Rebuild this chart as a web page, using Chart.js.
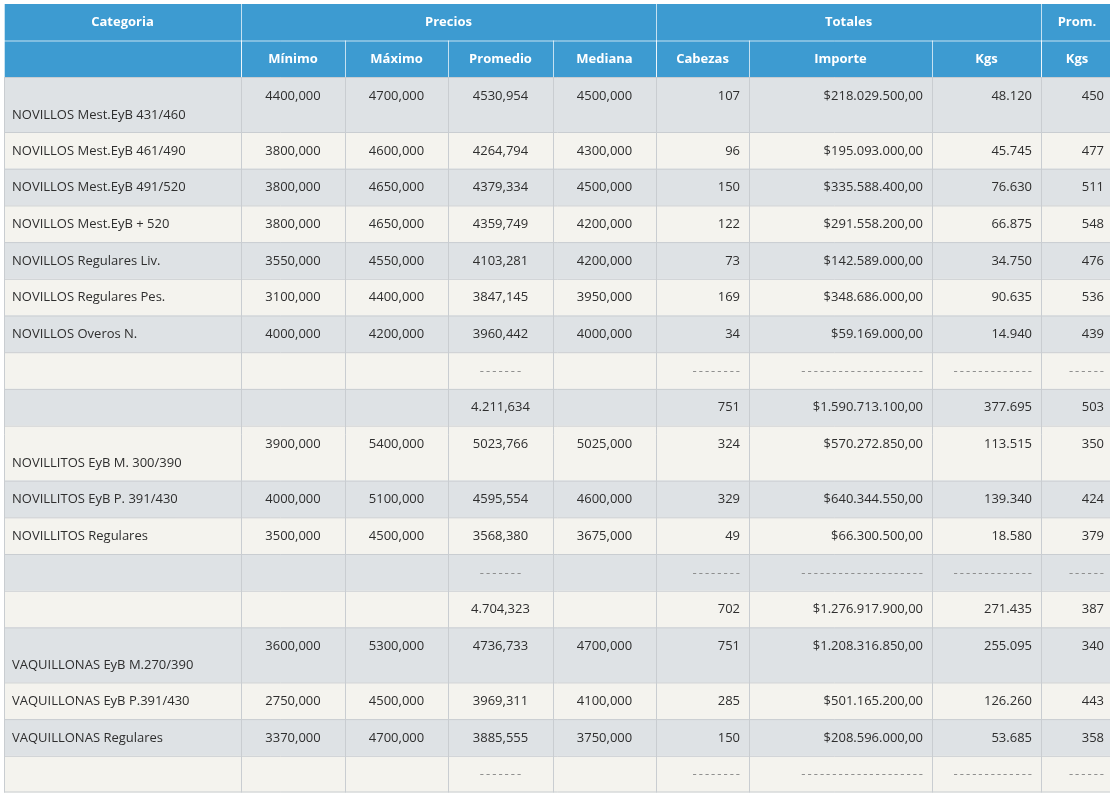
<!DOCTYPE html>
<html>
<head>
<meta charset="utf-8">
<script src="https://cdn.jsdelivr.net/npm/chart.js@4.4.1/dist/chart.umd.min.js"></script>
<style>
  html, body { margin: 0; padding: 0; background: #ffffff; }
  #wrap { width: 1110px; height: 793px; }
</style>
</head>
<body>
<div id="wrap"><canvas id="chart" width="1110" height="793"></canvas></div>
<script>
// table values, one array per column
const categorias = ["NOVILLOS Mest.EyB 431/460", "NOVILLOS Mest.EyB 461/490", "NOVILLOS Mest.EyB 491/520", "NOVILLOS Mest.EyB + 520",
    "NOVILLOS Regulares Liv.", "NOVILLOS Regulares Pes.", "NOVILLOS Overos N.", "", "",
    "NOVILLITOS EyB M. 300/390", "NOVILLITOS EyB P. 391/430", "NOVILLITOS Regulares", "", "",
    "VAQUILLONAS EyB M.270/390", "VAQUILLONAS EyB P.391/430", "VAQUILLONAS Regulares", ""];
const minimo = ["4400,000", "3800,000", "3800,000", "3800,000", "3550,000", "3100,000", "4000,000", "", "",
    "3900,000", "4000,000", "3500,000", "", "", "3600,000", "2750,000", "3370,000", ""];
const maximo = ["4700,000", "4600,000", "4650,000", "4650,000", "4550,000", "4400,000", "4200,000", "", "",
    "5400,000", "5100,000", "4500,000", "", "", "5300,000", "4500,000", "4700,000", ""];
const promedio = ["4530,954", "4264,794", "4379,334", "4359,749", "4103,281", "3847,145", "3960,442", "-------", "4.211,634",
    "5023,766", "4595,554", "3568,380", "-------", "4.704,323", "4736,733", "3969,311", "3885,555", "-------"];
const mediana = ["4500,000", "4300,000", "4500,000", "4200,000", "4200,000", "3950,000", "4000,000", "", "",
    "5025,000", "4600,000", "3675,000", "", "", "4700,000", "4100,000", "3750,000", ""];
const cabezas = ["107", "96", "150", "122", "73", "169", "34", "--------", "751",
    "324", "329", "49", "--------", "702", "751", "285", "150", "--------"];
const importe = ["$218.029.500,00", "$195.093.000,00", "$335.588.400,00", "$291.558.200,00", "$142.589.000,00", "$348.686.000,00",
    "$59.169.000,00", "--------------------", "$1.590.713.100,00", "$570.272.850,00", "$640.344.550,00", "$66.300.500,00",
    "--------------------", "$1.276.917.900,00", "$1.208.316.850,00", "$501.165.200,00", "$208.596.000,00", "--------------------"];
const kgs = ["48.120", "45.745", "76.630", "66.875", "34.750", "90.635", "14.940", "-------------", "377.695",
    "113.515", "139.340", "18.580", "-------------", "271.435", "255.095", "126.260", "53.685", "-------------"];
const promKgs = ["450", "477", "511", "548", "476", "536", "439", "------", "503",
    "350", "424", "379", "------", "387", "340", "443", "358", "------"];

const grupos = [["Categoria", 1], ["Precios", 4], ["Totales", 3], ["Prom.", 1]];
const subtitulos = ["", "Mínimo", "Máximo", "Promedio", "Mediana", "Cabezas", "Importe", "Kgs", "Kgs"];
const columnas = [categorias, minimo, maximo, promedio, mediana, cabezas, importe, kgs, promKgs];
const filasAltas = [0, 9, 14];

// layout
const colWidths = [237, 104, 103, 105, 103, 93, 183, 109, 72];
const colAlign = ["left", "center", "center", "center", "center", "right", "right", "right", "right"];
const top0 = 4, left0 = 4;
const headH = 36.5, rowH = 36.7, tallH = 55;
const FONT = "'Open Sans', 'Noto Sans', sans-serif";

const colLeft = [];
colWidths.reduce((acc, w, i) => { colLeft[i] = acc; return acc + w; }, left0);
const rowTop = [];
categorias.reduce((acc, c, i) => { rowTop[i] = acc; return acc + (filasAltas.includes(i) ? tallH : rowH); }, top0 + headH * 2);

const tablePlugin = {
    id: "tabla",
    afterDraw(chart) {
        const ctx = chart.ctx;
        const sx = chart.scales.x, sy = chart.scales.y;
        const px = v => sx.getPixelForValue(v);
        const py = v => sy.getPixelForValue(v);
        const tableRight = colLeft[8] + colWidths[8];
        ctx.save();

        // header background
        ctx.fillStyle = "#3d9bd1";
        ctx.fillRect(px(left0), py(top0), px(tableRight) - px(left0), py(top0 + headH * 2) - py(top0));

        // data rows, alternating
        categorias.forEach((c, i) => {
            const h = filasAltas.includes(i) ? tallH : rowH;
            ctx.fillStyle = i % 2 === 0 ? "#dee2e5" : "#f4f3ee";
            ctx.fillRect(px(left0), py(rowTop[i]), px(tableRight) - px(left0), py(rowTop[i] + h) - py(rowTop[i]));
        });

        // grid lines in body
        const bottom = rowTop[rowTop.length - 1] + rowH;
        ctx.strokeStyle = "#c9cdd1";
        ctx.lineWidth = 1;
        ctx.beginPath();
        rowTop.forEach(t => { ctx.moveTo(px(left0), py(t) + 0.5); ctx.lineTo(px(tableRight), py(t) + 0.5); });
        ctx.moveTo(px(left0), py(bottom) - 0.5); ctx.lineTo(px(tableRight), py(bottom) - 0.5);
        colLeft.forEach(l => { ctx.moveTo(px(l) + 0.5, py(top0 + headH * 2)); ctx.lineTo(px(l) + 0.5, py(bottom)); });
        ctx.stroke();

        // header lines
        ctx.strokeStyle = "rgba(255,255,255,0.7)";
        ctx.beginPath();
        ctx.moveTo(px(left0), py(top0 + headH) + 0.5); ctx.lineTo(px(tableRight), py(top0 + headH) + 0.5);
        let gi = 0;
        grupos.forEach(([, span]) => {
            ctx.moveTo(px(colLeft[gi]) + 0.5, py(top0)); ctx.lineTo(px(colLeft[gi]) + 0.5, py(top0 + headH * 2));
            gi += span;
        });
        colLeft.forEach((l, i) => { if (i > 0) { ctx.moveTo(px(l) + 0.5, py(top0 + headH)); ctx.lineTo(px(l) + 0.5, py(top0 + headH * 2)); } });
        ctx.stroke();

        // header text
        ctx.fillStyle = "#ffffff";
        ctx.font = "bold 13px " + FONT;
        ctx.textAlign = "center";
        ctx.textBaseline = "middle";
        gi = 0;
        grupos.forEach(([t, span]) => {
            const l = colLeft[gi], r = colLeft[gi + span - 1] + colWidths[gi + span - 1];
            ctx.fillText(t, (px(l) + px(r)) / 2, py(top0 + headH / 2) + 0.5);
            gi += span;
        });
        subtitulos.forEach((t, i) => {
            ctx.fillText(t, px(colLeft[i] + colWidths[i] / 2), py(top0 + headH * 1.5) + 0.5);
        });

        // body text
        ctx.font = "13px " + FONT;
        columnas.forEach((col, ci) => {
            col.forEach((txt, ri) => {
                if (!txt) return;
                const tall = filasAltas.includes(ri);
                let yMid = rowTop[ri] + rowH / 2;
                if (tall && ci === 0) yMid = rowTop[ri] + tallH - rowH / 2 + 1;
                const dash = txt.startsWith("---");
                ctx.fillStyle = dash ? "#8a8a8a" : "#2e2e2e";
                ctx.letterSpacing = dash ? "2px" : "0px";
                ctx.textAlign = colAlign[ci];
                let xPos;
                if (colAlign[ci] === "left") xPos = colLeft[ci] + 8;
                else if (colAlign[ci] === "right") xPos = colLeft[ci] + colWidths[ci] - (dash ? 7 : 9);
                else xPos = colLeft[ci] + colWidths[ci] / 2 + (dash ? 1 : 0);
                ctx.fillText(txt, px(xPos), py(yMid) + 0.5);
            });
        });
        ctx.restore();
    }
};

const chart = new Chart(document.getElementById("chart").getContext("2d"), {
    type: "scatter",
    data: { datasets: [] },
    options: {
        responsive: false,
        animation: false,
        events: [],
        layout: { padding: 0 },
        plugins: { legend: { display: false }, tooltip: { enabled: false } },
        scales: {
            x: { type: "linear", min: 0, max: 1110, display: false },
            y: { type: "linear", min: 0, max: 793, reverse: true, display: false }
        }
    },
    plugins: [tablePlugin]
});
</script>
</body>
</html>
